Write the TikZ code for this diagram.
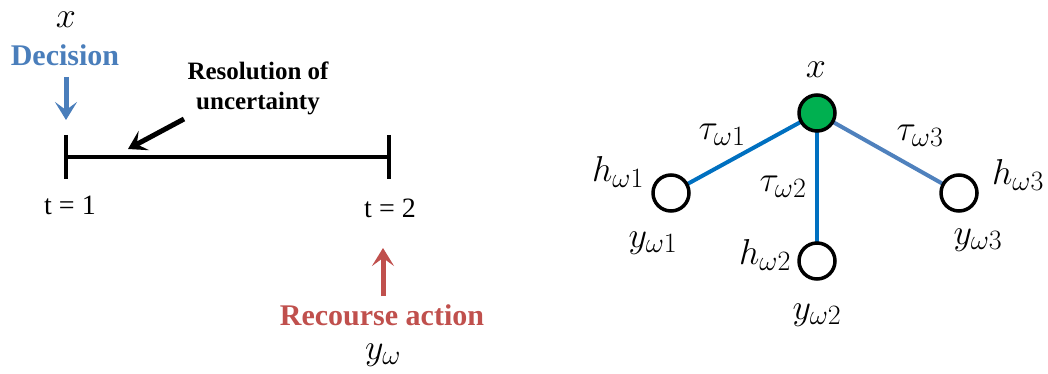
\RequirePackage{fix-cm}
\documentclass[tikz,border=0pt]{standalone}
\usepackage{fontspec}
\setmainfont{Liberation Serif}
\usetikzlibrary{arrows.meta,calc}
\DeclareMathSizes{36}{36}{28}{21}

\definecolor{decblue}{RGB}{74,126,187}
\definecolor{recred}{RGB}{192,80,77}
\definecolor{edgeblue}{RGB}{0,112,192}
\definecolor{edgesteel}{RGB}{79,129,189}
\definecolor{rootgreen}{RGB}{0,176,80}

\begin{document}
\begin{tikzpicture}[
  x=1pt, y=-1pt,
  >={Stealth[length=18pt, width=22pt, inset=8pt]},
  big/.style={font=\fontsize{30}{32}\selectfont\bfseries},
  mid/.style={font=\fontsize{25}{30}\selectfont\bfseries, align=center},
  tlab/.style={font=\fontsize{28}{30}\selectfont},
  mth/.style={font=\fontsize{36}{38}\selectfont, inner sep=0pt},
  arr/.style={->, line width=5pt},
  tline/.style={line width=4.5pt},
  leaf/.style={circle, draw, line width=3.5pt, minimum size=36pt, inner sep=0pt, fill=white},
  root/.style={leaf, fill=rootgreen},
  edge/.style={line width=4pt, color=edgeblue},
]
\useasboundingbox (0,0) rectangle (1048,374);

% time line
\coordinate (t1) at (66,157);
\coordinate (t2) at (389,157);
\draw[tline] (t1) -- (t2);
\draw[tline] ($(t1)+(0,-22)$) -- ($(t1)+(0,22)$);
\draw[tline] ($(t2)+(0,-22)$) -- ($(t2)+(0,22)$);
\node[tlab] (s1) at (70,205) {t = 1};
\node[tlab] (s2) at (390,208) {t = 2};

% first stage
\node[mth] (xl) at (66,20) {$x$};
\node[big, text=decblue] (dec) at (65,55) {Decision};
\coordinate (dtop) at (66,77);
\coordinate (dtip) at (66,120);
\draw[arr, decblue] (dtop) -- (dtip);

% uncertainty
\node[mid] (res) at (258,88) {Resolution of\\uncertainty};
\coordinate (rtail) at (184,119);
\coordinate (rtip) at (128,149);
\draw[arr] (rtail) -- (rtip);

% second stage
\coordinate (rbot) at (383,296);
\coordinate (rtop) at (383,248);
\draw[arr, recred] (rbot) -- (rtop);
\node[big, text=recred] (rec) at (382,315) {Recourse action};
\node[mth] (yl) at (383,355) {$y_\omega$};

% scenario tree
\node[mth] (xr) at (816,70) {$x$};
\coordinate (c0) at (817,113);
\coordinate (c1) at (671,193);
\coordinate (c2) at (817,261);
\coordinate (c3) at (959,193);
\draw[edge] (c0) -- (c1);
\draw[edge] (c0) -- (c2);
\draw[edge, edgesteel] (c0) -- (c3);
\node[root] (n0) at (c0) {};
\node[leaf] (n1) at (c1) {};
\node[leaf] (n2) at (c2) {};
\node[leaf] (n3) at (c3) {};

\node[mth] (tau1) at (722,135) {$\tau_{\omega 1}$};
\node[mth] (tau2) at (783,187) {$\tau_{\omega 2}$};
\node[mth] (tau3) at (920,136) {$\tau_{\omega 3}$};
\node[mth] (h1) at (618,172) {$h_{\omega 1}$};
\node[mth] (h2) at (765,255) {$h_{\omega 2}$};
\node[mth] (h3) at (1018,175) {$h_{\omega 3}$};
\node[mth] (y1) at (653,243) {$y_{\omega 1}$};
\node[mth] (y2) at (817,315) {$y_{\omega 2}$};
\node[mth] (y3) at (978,240) {$y_{\omega 3}$};
\end{tikzpicture}
\end{document}
